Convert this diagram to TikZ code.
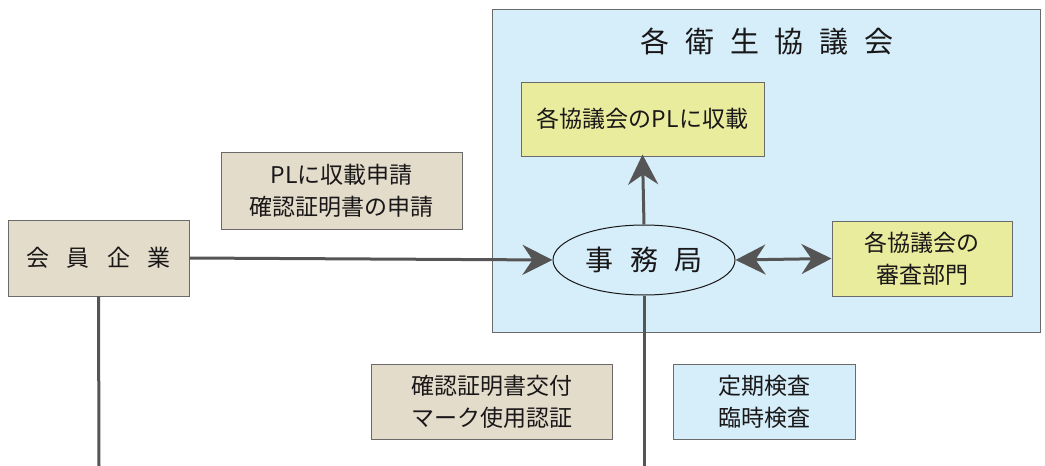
\documentclass[tikz,border=0pt]{standalone}
\usepackage{fontspec}
\setmainfont{Noto Sans CJK JP}
\usetikzlibrary{shapes.geometric,arrows.meta}
\definecolor{beige}{HTML}{E3DCCB}
\definecolor{lblue}{HTML}{D5EEFA}
\definecolor{lyellow}{HTML}{E9EC9D}
\definecolor{edge}{HTML}{6A6A6A}
\definecolor{lin}{HTML}{555555}
\definecolor{txt}{HTML}{1A1718}
\tikzset{bigtip/.tip={Stealth[length=30pt,width=30pt,inset=10pt]}}
\begin{document}
\begin{tikzpicture}[x=1pt,y=-1pt,
  box/.style={draw=edge,line width=1pt,inner sep=0pt,text=txt,align=center,font=\fontsize{23}{32}\selectfont},
  conn/.style={draw=lin,line width=3pt}]
\useasboundingbox (0,0) rectangle (1045,466);
\node[box,fill=lblue,minimum width=548pt,minimum height=323pt] (council) at (766,170.5) {};
\node[text=txt,font=\fontsize{29}{30}\selectfont] (title) at (767,41) {各\hspace{0.55em}衛\hspace{0.55em}生\hspace{0.55em}協\hspace{0.55em}議\hspace{0.55em}会};
\node[box,fill=lyellow,minimum width=243pt,minimum height=74pt] (pl) at (642.5,119) {各協議会のPLに収載};
\node[box,fill=lyellow,minimum width=180pt,minimum height=75pt] (shinsa) at (922,258.5) {各協議会の\\審査部門};
\node[draw=txt,line width=1pt,ellipse,fill=lblue,minimum width=182pt,minimum height=70pt,inner sep=0pt,text=txt,font=\fontsize{28}{30}\selectfont] (jimu) at (644,260) {事\hspace{0.6em}務\hspace{0.6em}局};
\node[box,fill=beige,minimum width=181pt,minimum height=76pt,font=\fontsize{23}{30}\selectfont] (kaiin) at (98.5,258) {会\hspace{0.75em}員\hspace{0.75em}企\hspace{0.75em}業};
\node[box,fill=beige,minimum width=241pt,minimum height=77pt] (shinsei) at (341.5,190.5) {PLに収載申請\\確認証明書の申請};
\node[box,fill=beige,minimum width=241pt,minimum height=75pt] (kofu) at (491.5,401.5) {確認証明書交付\\マーク使用認証};
\node[box,fill=lblue,minimum width=182pt,minimum height=75pt] (kensa) at (764,401.5) {定期検査\\臨時検査};
\coordinate (b1) at (99,466);
\coordinate (b2) at (644,466);
\draw[conn,-bigtip] (kaiin.east) -- (jimu.west);
\draw[conn,-bigtip] (jimu.north) -- ([yshift=2pt]pl.south);
\draw[conn,bigtip-bigtip] (jimu.east) -- (shinsa.west);
\draw[conn] (kaiin.south) -- (b1);
\draw[conn] (jimu.south) -- (b2);
\end{tikzpicture}
\end{document}
